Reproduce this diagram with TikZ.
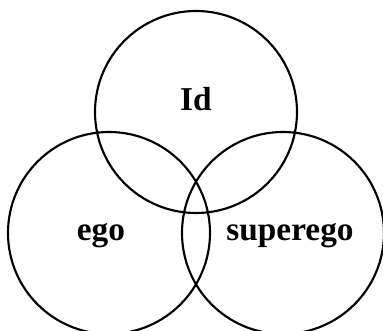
\documentclass[tikz,border=0pt]{standalone}
\usepackage{tikz}
\usepackage{fontspec}
\newfontfamily\lblfont{Liberation Serif}
\usetikzlibrary{positioning}

\begin{document}
\begin{tikzpicture}[x=0.75pt,y=-0.75pt,
  ring/.style={line width=1.6pt},
  lbl/.style={font=\lblfont\fontsize{25}{28}\bfseries\selectfont, anchor=base, inner sep=0pt}]
\useasboundingbox (0,0) rectangle (383,331);
\foreach \cx/\cy in {196/112,109/233,283/233} {
  \draw[ring] (\cx,\cy) circle[radius=101*0.75pt];
}
\node[lbl] (id) at (196,111) {Id};
\node[lbl] (ego) at (101,241) {ego};
\node[lbl] (superego) at (290,241) {superego};
\end{tikzpicture}
\end{document}
